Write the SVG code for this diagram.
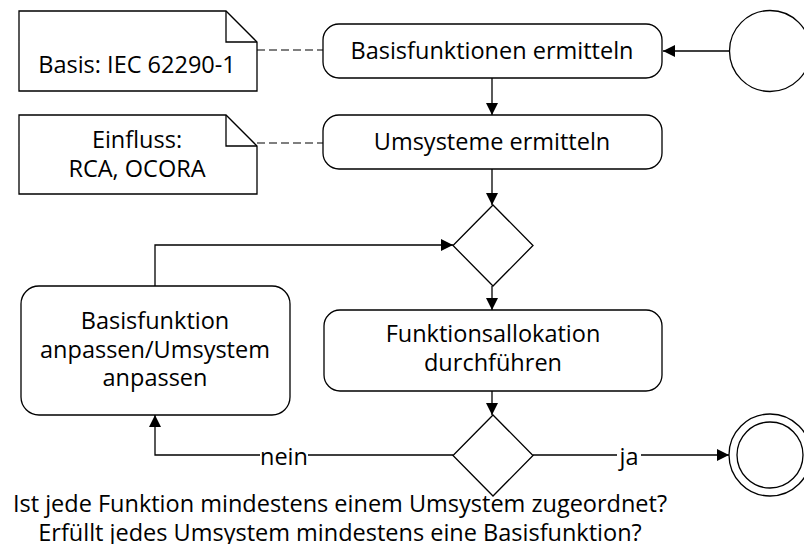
<svg xmlns="http://www.w3.org/2000/svg" width="804" height="544" viewBox="0 0 804 544">
  <style>
    .shape { fill: #fff; stroke: #000; stroke-width: 1.3; }
    .edge { fill: none; stroke: #000; stroke-width: 1.3; }
    .dash { fill: none; stroke: #555; stroke-width: 1.3; stroke-dasharray: 8 4; }
    text { font-family: "Open Sans", "Noto Sans", sans-serif; font-size: 23.5px; fill: #000; text-anchor: middle; }
    .lbl { dominant-baseline: central; }
  </style>
  <defs>
    <marker id="arrow" viewBox="0 0 12 12" refX="12" refY="6" markerWidth="12" markerHeight="12" markerUnits="userSpaceOnUse" orient="auto">
      <path d="M0,0 L12,6 L0,12 Z" fill="#000"/>
    </marker>
  </defs>

  <!-- connectors -->
  <g id="connectors">
    <path class="dash" d="M257,50 H323"/>
    <path class="dash" d="M257,143 H323"/>
    <path class="edge" d="M729,51 H663" marker-end="url(#arrow)"/>
    <path class="edge" d="M492,78 V115" marker-end="url(#arrow)"/>
    <path class="edge" d="M492,169 V205" marker-end="url(#arrow)"/>
    <path class="edge" d="M492,286 V310" marker-end="url(#arrow)"/>
    <path class="edge" d="M492,391 V415" marker-end="url(#arrow)"/>
    <path class="edge" d="M155,286 V245 H453" marker-end="url(#arrow)"/>
    <path class="edge" d="M453,455 H155 V415" marker-end="url(#arrow)"/>
    <path class="edge" d="M533,455 H729" marker-end="url(#arrow)"/>
    <rect x="260" y="442" width="48" height="26" fill="#fff"/>
    <text class="lbl" x="284" y="456">nein</text>
    <rect x="617" y="442" width="24" height="26" fill="#fff"/>
    <text class="lbl" x="629" y="456">ja</text>
  </g>

  <!-- notes -->
  <g id="note-basis">
    <path class="shape" d="M19,11 H226 L257,42 V91 H19 Z"/>
    <path class="edge" d="M226,11 V42 H257"/>
    <text x="137" y="73">Basis: IEC 62290-1</text>
  </g>
  <g id="note-einfluss">
    <path class="shape" d="M19,115 H226 L257,146 V194 H19 Z"/>
    <path class="edge" d="M226,115 V146 H257"/>
    <text x="137" y="148">Einfluss:</text>
    <text x="137" y="177">RCA, OCORA</text>
  </g>

  <!-- start -->
  <g id="start">
    <circle class="shape" cx="770" cy="51" r="40.5"/>
  </g>

  <!-- actions -->
  <g id="basisfunktionen-ermitteln">
    <rect class="shape" x="323" y="24" width="339" height="54" rx="16"/>
    <text x="492" y="59">Basisfunktionen ermitteln</text>
  </g>
  <g id="umsysteme-ermitteln">
    <rect class="shape" x="323" y="115" width="339" height="54" rx="16"/>
    <text x="492" y="150">Umsysteme ermitteln</text>
  </g>

  <g id="merge">
    <path class="shape" d="M493,205 L533,245.5 L493,286 L453,245.5 Z"/>
  </g>

  <g id="funktionsallokation">
    <rect class="shape" x="324" y="310" width="338" height="81" rx="16"/>
    <text x="493" y="342">Funktionsallokation</text>
    <text x="493" y="371">durchführen</text>
  </g>

  <g id="anpassen">
    <rect class="shape" x="21" y="286" width="269" height="129" rx="18"/>
    <text x="155" y="329">Basisfunktion</text>
    <text x="155" y="358">anpassen/Umsystem</text>
    <text x="155" y="386">anpassen</text>
  </g>

  <g id="decision">
    <path class="shape" d="M493,415 L533,455.5 L493,496 L453,455.5 Z"/>
  </g>

  <!-- end -->
  <g id="end">
    <circle class="shape" cx="770" cy="455" r="41"/>
    <circle class="shape" cx="770" cy="455" r="33"/>
  </g>

  <g id="question">
    <text x="340" y="512">Ist jede Funktion mindestens einem Umsystem zugeordnet?</text>
    <text x="340" y="541">Erfüllt jedes Umsystem mindestens eine Basisfunktion?</text>
  </g>
</svg>
